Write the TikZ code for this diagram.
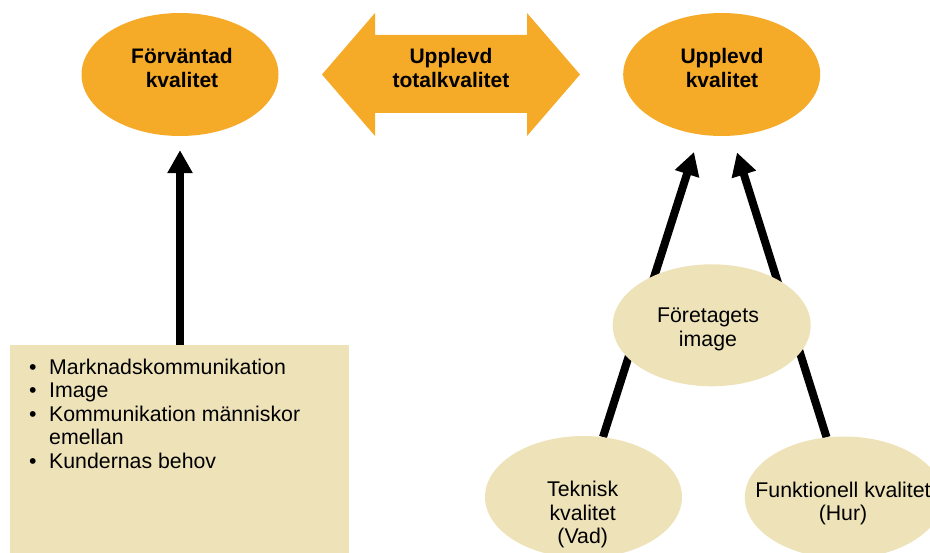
\documentclass[tikz,border=0pt]{standalone}
\usepackage{fontspec}
\setmainfont{Liberation Sans}
\usetikzlibrary{arrows.meta,shapes.geometric}
\definecolor{gold}{HTML}{F5AA28}
\definecolor{sand}{HTML}{EEE2B9}
\pgfdeclarelayer{back}
\pgfsetlayers{back,main}
\tikzset{
  bigell/.style={ellipse, fill=gold, minimum width=197pt, minimum height=123pt, inner sep=0pt},
  smallell/.style={ellipse, fill=sand, minimum width=198pt, minimum height=122pt, inner sep=0pt},
  boldtxt/.style={font=\fontsize{21}{24}\selectfont\bfseries, align=center, anchor=base, inner sep=0pt},
  plaintxt/.style={font=\fontsize{21.3}{23.5}\selectfont, align=center, anchor=base, inner sep=0pt},
  flow/.style={line width=8pt, -{Triangle[length=23pt,width=24pt]}},
}
\begin{document}
\begin{tikzpicture}[x=1pt,y=-1pt]
\useasboundingbox (0,0) rectangle (930,553);
\clip (0,0) rectangle (930,553);

% top row: expected quality, total quality, experienced quality
% (multi-line texts are placed by the baseline of their last line)
\node[bigell] (fe) at (180,74.5) {};
\node[boldtxt] (fet) at (182,87.3) {Förväntad\\kvalitet};

\fill[gold] (322,74.5) -- (375,13) -- (375,35) -- (527,35) -- (527,13)
  -- (580,74.5) -- (527,136) -- (527,113) -- (375,113) -- (375,136) -- cycle;
\node[boldtxt] (tot) at (451,87.3) {Upplevd\\totalkvalitet};

\node[bigell] (uq) at (721.7,74.5) {};
\node[boldtxt] (uqt) at (722,87.3) {Upplevd\\kvalitet};

% left box with the list of factors
\node[fill=sand, anchor=north west, minimum width=339pt, minimum height=230pt, inner sep=0pt] (box) at (10,345) {};
\node[plaintxt, align=left, anchor=base west] (list) at (29,468.3) {%
  \makebox[20pt][l]{\textbullet}Marknadskommunikation\\
  \makebox[20pt][l]{\textbullet}Image\\
  \makebox[20pt][l]{\textbullet}Kommunikation människor\\
  \hspace*{20pt}emellan\\
  \makebox[20pt][l]{\textbullet}Kundernas behov};

% right side: image, technical and functional quality
\node[smallell] (img) at (711.7,325.3) {};
\node[plaintxt] (imgt) at (708,346.2) {Företagets\\image};

\node[smallell, minimum width=197pt] (tek) at (583.5,497) {};
\node[plaintxt] (tekt) at (582.7,543.5) {Teknisk\\kvalitet\\(Vad)};

\node[smallell] (fun) at (843.8,497.5) {};
\node[plaintxt] (funt) at (843,521) {Funktionell kvalitet\\(Hur)};

\coordinate (tipL) at (694,152);
\coordinate (tipR) at (737,152.5);

\begin{pgfonlayer}{back}
  \draw[flow] (box.north -| fe.south) -- (fe.south) [shorten >=14pt];
  \draw[flow] (tek.72) -- (tipL);
  \draw[flow] (fun.106) -- (tipR);
\end{pgfonlayer}
\end{tikzpicture}
\end{document}
